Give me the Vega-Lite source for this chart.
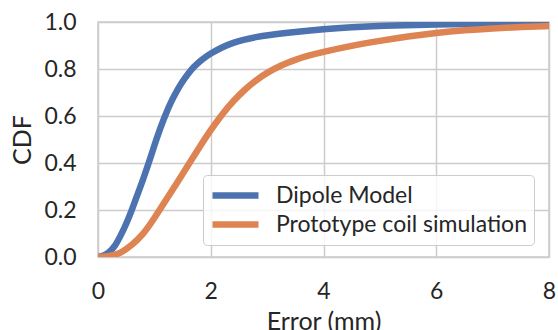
{
  "$schema": "https://vega.github.io/schema/vega-lite/v6.json",
  "width": 451,
  "height": 235,
  "autosize": "none",
  "padding": {"left": 98, "top": 22, "right": 9, "bottom": 73},
  "background": "white",
  "config": {
    "font": "Lato",
    "view": {"stroke": "#cccccc", "strokeWidth": 1.5},
    "axis": {
      "grid": true,
      "gridColor": "#cccccc",
      "gridWidth": 1.5,
      "domain": false,
      "ticks": false,
      "labelFlush": false,
      "labelFont": "Lato",
      "labelFontSize": 23,
      "labelColor": "#262626",
      "titleFont": "Lato",
      "titleFontSize": 25,
      "titleFontWeight": "normal",
      "titleColor": "#262626"
    },
    "legend": {
      "labelFont": "Lato",
      "labelFontSize": 23,
      "labelColor": "#262626"
    }
  },
  "data": {
    "values": [
      {"series": "Dipole Model", "x": 0, "y": 0},
      {"series": "Dipole Model", "x": 0.1, "y": 0.004},
      {"series": "Dipole Model", "x": 0.2, "y": 0.02},
      {"series": "Dipole Model", "x": 0.3, "y": 0.045},
      {"series": "Dipole Model", "x": 0.4, "y": 0.09},
      {"series": "Dipole Model", "x": 0.5, "y": 0.14},
      {"series": "Dipole Model", "x": 0.6, "y": 0.2},
      {"series": "Dipole Model", "x": 0.7, "y": 0.265},
      {"series": "Dipole Model", "x": 0.8, "y": 0.33},
      {"series": "Dipole Model", "x": 0.9, "y": 0.4},
      {"series": "Dipole Model", "x": 1.0, "y": 0.475},
      {"series": "Dipole Model", "x": 1.1, "y": 0.545},
      {"series": "Dipole Model", "x": 1.2, "y": 0.608},
      {"series": "Dipole Model", "x": 1.3, "y": 0.663},
      {"series": "Dipole Model", "x": 1.4, "y": 0.708},
      {"series": "Dipole Model", "x": 1.5, "y": 0.748},
      {"series": "Dipole Model", "x": 1.6, "y": 0.781},
      {"series": "Dipole Model", "x": 1.7, "y": 0.809},
      {"series": "Dipole Model", "x": 1.8, "y": 0.832},
      {"series": "Dipole Model", "x": 1.9, "y": 0.85},
      {"series": "Dipole Model", "x": 2.0, "y": 0.866},
      {"series": "Dipole Model", "x": 2.2, "y": 0.893},
      {"series": "Dipole Model", "x": 2.4, "y": 0.912},
      {"series": "Dipole Model", "x": 2.6, "y": 0.926},
      {"series": "Dipole Model", "x": 2.8, "y": 0.936},
      {"series": "Dipole Model", "x": 3.0, "y": 0.944},
      {"series": "Dipole Model", "x": 3.5, "y": 0.958},
      {"series": "Dipole Model", "x": 4.0, "y": 0.97},
      {"series": "Dipole Model", "x": 4.5, "y": 0.978},
      {"series": "Dipole Model", "x": 5.0, "y": 0.984},
      {"series": "Dipole Model", "x": 6.0, "y": 0.99},
      {"series": "Dipole Model", "x": 7.0, "y": 0.993},
      {"series": "Dipole Model", "x": 8.0, "y": 0.995},
      {"series": "Prototype coil simulation", "x": 0, "y": 0},
      {"series": "Prototype coil simulation", "x": 0.2, "y": 0.003},
      {"series": "Prototype coil simulation", "x": 0.4, "y": 0.015},
      {"series": "Prototype coil simulation", "x": 0.6, "y": 0.05},
      {"series": "Prototype coil simulation", "x": 0.8, "y": 0.095},
      {"series": "Prototype coil simulation", "x": 1.0, "y": 0.165},
      {"series": "Prototype coil simulation", "x": 1.2, "y": 0.24},
      {"series": "Prototype coil simulation", "x": 1.4, "y": 0.315},
      {"series": "Prototype coil simulation", "x": 1.6, "y": 0.392},
      {"series": "Prototype coil simulation", "x": 1.8, "y": 0.468},
      {"series": "Prototype coil simulation", "x": 2.0, "y": 0.541},
      {"series": "Prototype coil simulation", "x": 2.2, "y": 0.607},
      {"series": "Prototype coil simulation", "x": 2.4, "y": 0.664},
      {"series": "Prototype coil simulation", "x": 2.6, "y": 0.712},
      {"series": "Prototype coil simulation", "x": 2.8, "y": 0.752},
      {"series": "Prototype coil simulation", "x": 3.0, "y": 0.785},
      {"series": "Prototype coil simulation", "x": 3.25, "y": 0.816},
      {"series": "Prototype coil simulation", "x": 3.5, "y": 0.84},
      {"series": "Prototype coil simulation", "x": 3.75, "y": 0.858},
      {"series": "Prototype coil simulation", "x": 4.0, "y": 0.873},
      {"series": "Prototype coil simulation", "x": 4.5, "y": 0.899},
      {"series": "Prototype coil simulation", "x": 5.0, "y": 0.92},
      {"series": "Prototype coil simulation", "x": 5.5, "y": 0.939},
      {"series": "Prototype coil simulation", "x": 6.0, "y": 0.954},
      {"series": "Prototype coil simulation", "x": 6.5, "y": 0.965},
      {"series": "Prototype coil simulation", "x": 7.0, "y": 0.973},
      {"series": "Prototype coil simulation", "x": 7.5, "y": 0.979},
      {"series": "Prototype coil simulation", "x": 8.0, "y": 0.983}
    ]
  },
  "mark": {"type": "line", "strokeWidth": 6.5, "strokeCap": "round", "interpolate": "basis", "clip": true},
  "encoding": {
    "x": {
      "field": "x",
      "type": "quantitative",
      "title": "Error (mm)",
      "scale": {"domain": [0, 8], "nice": false},
      "axis": {"values": [0, 2, 4, 6, 8], "format": "d", "labelPadding": 23, "titlePadding": 6}
    },
    "y": {
      "field": "y",
      "type": "quantitative",
      "title": "CDF",
      "scale": {"domain": [0, 1], "nice": false},
      "axis": {"values": [0, 0.2, 0.4, 0.6, 0.8, 1.0], "format": ".1f", "labelPadding": 22, "titlePadding": 8}
    },
    "color": {
      "field": "series",
      "type": "nominal",
      "scale": {"domain": ["Dipole Model", "Prototype coil simulation"], "range": ["#4C72B0", "#DD8452"]},
      "legend": {
        "title": null,
        "orient": "none",
        "legendX": 105,
        "legendY": 153,
        "symbolType": "M-2.3,0H2.3",
        "symbolSize": 400,
        "symbolStrokeWidth": 6.5,
        "symbolOffset": 12,
        "labelOffset": 27,
        "labelLimit": 400,
        "rowPadding": 2,
        "padding": 7,
        "strokeColor": "#cccccc",
        "cornerRadius": 4,
        "fillColor": "rgba(255,255,255,0.8)"
      }
    }
  }
}
